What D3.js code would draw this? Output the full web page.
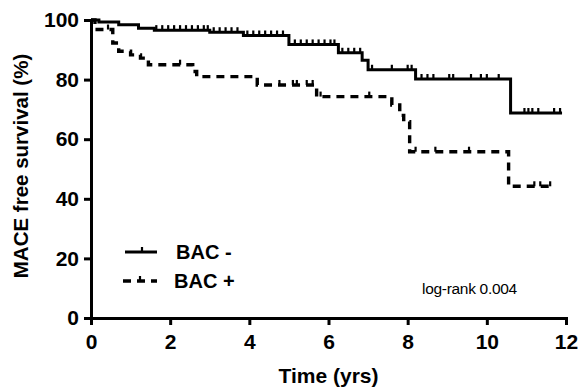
<!DOCTYPE html>
<html>
<head>
<meta charset="utf-8">
<script src="https://cdn.jsdelivr.net/npm/d3@7.9.0/dist/d3.min.js"></script>
<style>
  body { margin: 0; background: #fff; }
  svg { display: block; font-family: "Liberation Sans", Arial, sans-serif; }
</style>
</head>
<body>
<svg id="chart" width="579" height="388"></svg>
<script>
// BAC - (solid): step times and survival (%)
const negTimes = [0, 0.2, 0.7, 1.2, 1.6, 3.0, 3.85, 5.0, 6.25, 6.85, 7.0, 8.2, 10.6];
const negSurv = [100, 99.3, 98.4, 97.2, 96.6, 95.9, 94.8, 91.8, 89.0, 86.5, 83.3, 80.2, 68.8];
const negEnd = 11.9;
const negCensor = [1.65, 1.8, 1.95, 2.1, 2.25, 2.4, 2.55, 2.7, 2.85, 2.95,
  3.1, 3.25, 3.4, 3.55, 3.7, 3.95, 4.1, 4.25, 4.4, 4.55, 4.7, 4.85,
  5.15, 5.3, 5.45, 5.6, 5.75, 5.9, 6.05, 6.15, 6.35, 6.5, 6.65, 6.8,
  7.1, 7.6, 8.0, 8.1, 8.35, 8.5, 8.65, 9.05, 9.15, 9.6, 9.85, 10.0, 10.3,
  10.95, 11.05, 11.15, 11.3, 11.7, 11.85];

// BAC + (dashed)
const posTimes = [0, 0.1, 0.55, 0.7, 1.0, 1.25, 1.45, 2.57, 2.67, 4.2, 5.7, 7.6, 7.8, 7.9, 8.05, 10.55];
const posSurv = [100, 96.8, 92.3, 89.5, 88.3, 87.2, 85.0, 82.7, 81.0, 78.2, 74.3, 71.5, 68.0, 65.9, 55.8, 44.2];
const posEnd = 11.7;
const posCensor = [0.43, 2.25, 4.76, 5.1, 5.2, 5.45, 5.6, 5.8, 7.03, 7.6, 8.2, 8.7, 9.55, 11.2, 11.35, 11.6];

const xTicks = [0, 2, 4, 6, 8, 10, 12];
const yTicks = [0, 20, 40, 60, 80, 100];

const svg = d3.select('#chart');
const x = d3.scaleLinear().domain([0, 12]).range([91, 566]);
const y = d3.scaleLinear().domain([0, 100]).range([318, 20]);

function stepData(times, surv, end) {
  let pts = times.map((t, i) => [t, surv[i]]);
  pts.push([end, surv[surv.length - 1]]);
  return pts;
}

function survAt(times, surv, t) {
  let v = surv[0];
  times.forEach((tt, i) => { if (tt <= t) v = surv[i]; });
  return v;
}

const line = d3.line()
  .x((d) => x(d[0]))
  .y((d) => y(d[1]))
  .curve(d3.curveStepAfter);

// curves
svg.append('path')
  .attr('d', line(stepData(negTimes, negSurv, negEnd)))
  .attr('fill', 'none')
  .attr('stroke', '#000')
  .attr('stroke-width', 3);

svg.append('path')
  .attr('d', line(stepData(posTimes, posSurv, posEnd)))
  .attr('fill', 'none')
  .attr('stroke', '#000')
  .attr('stroke-width', 3.4)
  .attr('stroke-dasharray', '8,6');

// censor ticks
negCensor.forEach((t) => {
  let v = survAt(negTimes, negSurv, t);
  svg.append('line')
    .attr('x1', x(t)).attr('x2', x(t))
    .attr('y1', y(v)).attr('y2', y(v) - 5)
    .attr('stroke', '#000').attr('stroke-width', 2.2);
});
posCensor.forEach((t) => {
  let v = survAt(posTimes, posSurv, t);
  svg.append('line')
    .attr('x1', x(t)).attr('x2', x(t))
    .attr('y1', y(v)).attr('y2', y(v) - 5)
    .attr('stroke', '#000').attr('stroke-width', 2.2);
});

// axes
const xAxis = svg.append('g')
  .attr('transform', `translate(0,${y(0)})`)
  .call(d3.axisBottom(x).tickValues(xTicks).tickSize(7).tickSizeOuter(0).tickPadding(9));
const yAxis = svg.append('g')
  .attr('transform', `translate(${x(0)},0)`)
  .call(d3.axisLeft(y).tickValues(yTicks).tickSize(7).tickSizeOuter(0).tickPadding(5));

[xAxis, yAxis].forEach((g) => {
  g.select('.domain').attr('stroke-width', 3).attr('stroke-linecap', 'square');
  g.selectAll('.tick line').attr('stroke-width', 3);
  g.selectAll('.tick text')
    .attr('font-size', 21)
    .attr('font-weight', 'bold')
    .attr('font-family', '"Liberation Sans", Arial, sans-serif')
    .attr('fill', '#000');
});

// axis titles
svg.append('text')
  .attr('x', (x(0) + x(12)) / 2)
  .attr('y', 383)
  .attr('text-anchor', 'middle')
  .attr('font-size', 21)
  .attr('font-weight', 'bold')
  .text('Time (yrs)');

svg.append('text')
  .attr('transform', 'translate(28,166) rotate(-90)')
  .attr('text-anchor', 'middle')
  .attr('font-size', 20.5)
  .attr('font-weight', 'bold')
  .text('MACE free survival (%)');

// legend
const legend = svg.append('g');
legend.append('line')
  .attr('x1', 125).attr('x2', 157).attr('y1', 252).attr('y2', 252)
  .attr('stroke', '#000').attr('stroke-width', 3);
legend.append('line')
  .attr('x1', 142).attr('x2', 142).attr('y1', 252).attr('y2', 247)
  .attr('stroke', '#000').attr('stroke-width', 2.2);
legend.append('text')
  .attr('x', 176).attr('y', 259)
  .attr('font-size', 20).attr('font-weight', 'bold')
  .text('BAC -');

legend.append('line')
  .attr('x1', 123).attr('x2', 157).attr('y1', 281).attr('y2', 281)
  .attr('stroke', '#000').attr('stroke-width', 3.4)
  .attr('stroke-dasharray', '8,6');
legend.append('line')
  .attr('x1', 140).attr('x2', 140).attr('y1', 281).attr('y2', 276)
  .attr('stroke', '#000').attr('stroke-width', 2.2);
legend.append('text')
  .attr('x', 174).attr('y', 288)
  .attr('font-size', 20).attr('font-weight', 'bold')
  .text('BAC +');

svg.append('text')
  .attr('x', 422).attr('y', 294)
  .attr('font-size', 15.5)
  .attr('letter-spacing', -0.3)
  .text('log-rank 0.004');
</script>
</body>
</html>
